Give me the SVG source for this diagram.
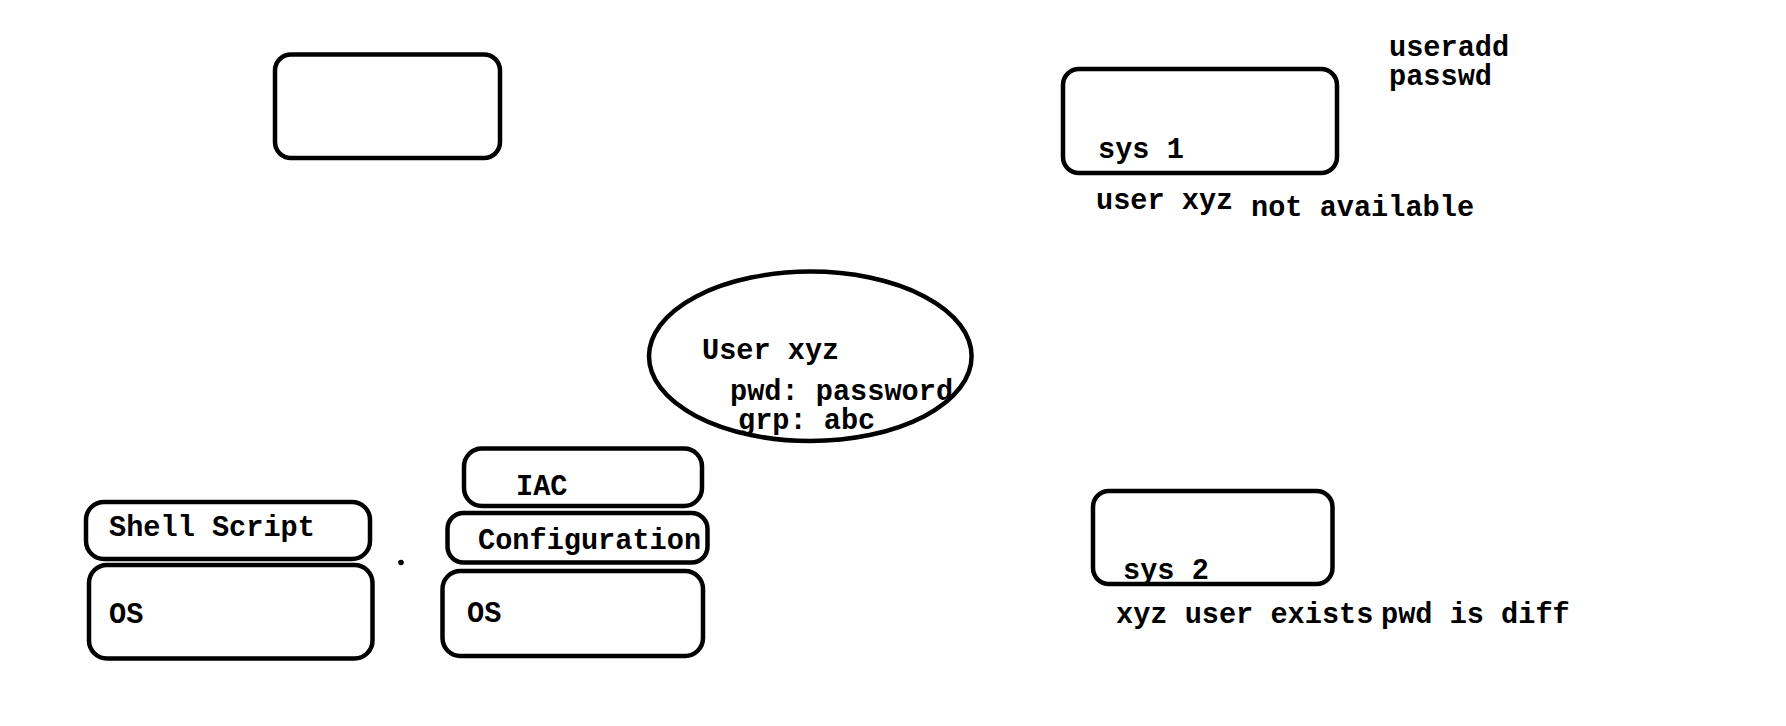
<svg xmlns="http://www.w3.org/2000/svg" width="1786" height="726" viewBox="0 0 1786 726">
<style>
.box{fill:none;stroke:#000;stroke-width:4.5}
.t{font-family:"Liberation Mono","DejaVu Sans Mono",monospace;font-weight:bold;font-size:28.6px;fill:#000}
</style>
<rect width="1786" height="726" fill="#fff"/>
<g id="box-top-left"><rect class="box" x="275" y="54.5" width="225" height="103.5" rx="16"/></g>
<g id="sys1"><rect class="box" x="1063" y="69" width="274" height="104" rx="16"/><text class="t" x="1098" y="157.5">sys 1</text></g>
<g id="sys1-notes">
<text class="t" x="1389" y="55.5">useradd</text>
<text class="t" x="1389" y="84.5">passwd</text>
<text class="t" x="1096" y="208.5">user xyz</text>
<text class="t" x="1251" y="215.5">not available</text>
</g>
<g id="user-xyz"><ellipse class="box" cx="810.3" cy="356.3" rx="161.3" ry="84.7"/>
<text class="t" x="702" y="358.5">User xyz</text>
<text class="t" x="730" y="399.5">pwd: password</text>
<text class="t" x="738" y="428.5">grp: abc</text>
</g>
<g id="shell-script"><rect class="box" x="86" y="502" width="284" height="57" rx="18"/><text class="t" x="109" y="535.5">Shell Script</text></g>
<g id="os-left"><rect class="box" x="89" y="565" width="283.5" height="93.5" rx="18"/><text class="t" x="109" y="622.5">OS</text></g>
<g id="dot"><circle cx="401" cy="562.5" r="2.8" fill="#000"/></g>
<g id="iac"><rect class="box" x="464" y="448.5" width="238" height="57.5" rx="18"/><text class="t" x="516" y="494.5">IAC</text></g>
<g id="configuration"><rect class="box" x="447.5" y="513" width="260" height="49.5" rx="16"/><text class="t" x="478" y="548.5">Configuration</text></g>
<g id="os-mid"><rect class="box" x="442.5" y="571" width="260.5" height="85" rx="18"/><text class="t" x="467" y="621.5">OS</text></g>
<g id="sys2"><rect class="box" x="1093" y="491" width="239.5" height="93" rx="16"/><text class="t" x="1123" y="578.5">sys 2</text></g>
<g id="sys2-notes">
<text class="t" x="1116" y="622.5">xyz user exists</text>
<text class="t" x="1381" y="622.5">pwd is diff</text>
</g>
<g id="connectors"></g>
</svg>
